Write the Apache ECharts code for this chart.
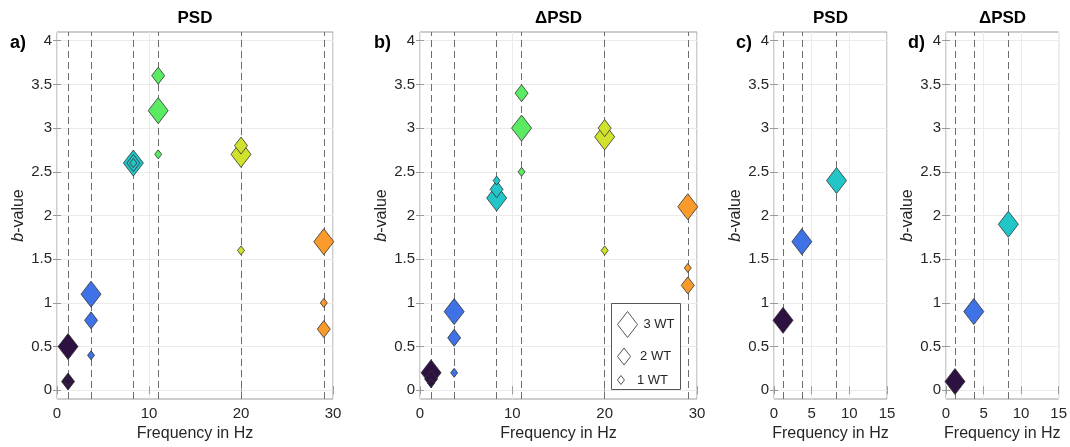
<!DOCTYPE html>
<html>
<head>
<meta charset="utf-8">
<script src="https://cdn.jsdelivr.net/npm/echarts@6/dist/echarts.min.js"></script>
<style>
html,body{margin:0;padding:0;background:#fff;}
#chart{width:1070px;height:447px;}
</style>
</head>
<body>
<div id="chart"></div>
<script>
// ---------- data ----------
const freqsAB = [1.2, 3.7, 8.3, 11, 20, 29];
const colorsAB = ['#2d1141', '#3f72e6', '#22c5c8', '#5aeb62', '#d0e22c', '#fa9a2a'];

const psd_3WT = [0.5, 1.1, 2.6, 3.2, 2.7, 1.7];
const psd_2WT = [0.1, 0.8, 2.6, 3.6, 2.8, 0.7];
const psd_1WT = [0.1, 0.4, 2.6, 2.7, 1.6, 1.0];

const dpsd_3WT = [0.2, 0.9, 2.2, 3.0, 2.9, 2.1];
const dpsd_2WT = [0.13, 0.6, 2.3, 3.4, 3.0, 1.2];
const dpsd_1WT = [0.08, 0.2, 2.4, 2.5, 1.6, 1.4];

const freqsCD = [1.2, 3.7, 8.3];
const colorsCD = ['#2d1141', '#3f72e6', '#22c5c8'];
const psdC_3WT = [0.8, 1.7, 2.4];
const dpsdD_3WT = [0.1, 0.9, 1.9];

const yTicks = [0, 0.5, 1, 1.5, 2, 2.5, 3, 3.5, 4];
const panelTitles = ['PSD', '\u0394PSD', 'PSD', '\u0394PSD'];
const panelLetters = ['a)', 'b)', 'c)', 'd)'];
const sizeNames = ['3 WT', '2 WT', '1 WT'];

// ---------- styling ----------
const FONT = '"Liberation Sans", Arial, Helvetica, sans-serif';
const TXT = '#262626';
const BOX = '#9a9a9a';
const symSizes = {'3 WT': [20, 26], '2 WT': [13, 17], '1 WT': [7, 9]};

const grids = [
  {left: 57, top: 32, width: 276, height: 367, xmax: 30, xint: 10},
  {left: 420, top: 32, width: 277, height: 367, xmax: 30, xint: 10},
  {left: 774, top: 32, width: 113, height: 367, xmax: 15, xint: 5},
  {left: 946, top: 32, width: 113, height: 367, xmax: 15, xint: 5}
];

const option = {
  animation: false,
  backgroundColor: '#fff',
  textStyle: {fontFamily: FONT},
  grid: grids.map(g => ({left: g.left, top: g.top, width: g.width, height: g.height,
    show: true, borderColor: BOX, borderWidth: 1, backgroundColor: 'transparent'})),
  xAxis: [],
  yAxis: [],
  series: [],
  legend: [],
  graphic: []
};

grids.forEach((g, i) => {
  option.xAxis.push({
    type: 'value', gridIndex: i, min: 0, max: g.xmax, interval: g.xint,
    name: 'Frequency in Hz', nameLocation: 'middle', nameGap: 27,
    nameTextStyle: {fontSize: 16, color: TXT, fontFamily: FONT},
    axisLine: {show: false},
    axisTick: {show: true, inside: true, length: 4, lineStyle: {color: BOX}},
    axisLabel: {fontSize: 15, color: TXT, fontFamily: FONT, margin: 7},
    splitLine: {show: true, lineStyle: {color: '#ebebeb', width: 1}}
  });
  option.xAxis.push({
    type: 'value', gridIndex: i, position: 'top', min: 0, max: g.xmax, interval: g.xint,
    axisLine: {show: false},
    axisTick: {show: true, inside: true, length: 4, lineStyle: {color: BOX}},
    axisLabel: {show: false}, splitLine: {show: false}
  });
  option.yAxis.push({
    type: 'value', gridIndex: i, min: -0.1, max: 4.1,
    name: '{it|b}-value', nameLocation: 'middle', nameGap: 30,
    nameTextStyle: {fontSize: 16, color: TXT, fontFamily: FONT,
      rich: {it: {fontStyle: 'italic', fontSize: 16, color: TXT, fontFamily: FONT}}},
    axisLine: {show: false},
    axisTick: {show: true, inside: true, length: 4, lineStyle: {color: BOX}, customValues: yTicks},
    axisLabel: {fontSize: 15, color: TXT, fontFamily: FONT, margin: 5, customValues: yTicks},
    splitLine: {show: true, lineStyle: {color: '#ebebeb', width: 1}}
  });
  option.yAxis.push({
    type: 'value', gridIndex: i, position: 'right', min: -0.1, max: 4.1,
    axisLine: {show: false},
    axisTick: {show: true, inside: true, length: 4, lineStyle: {color: BOX}, customValues: yTicks},
    axisLabel: {show: false, customValues: yTicks}, splitLine: {show: false}
  });
});

function addPanel(i, freqs, colors, groups) {
  const xi = i * 2, yi = i * 2;
  option.series.push({
    type: 'scatter', xAxisIndex: xi, yAxisIndex: yi, data: [], z: 1, silent: true,
    markLine: {
      z: 1, symbol: 'none', silent: true, animation: false, label: {show: false},
      lineStyle: {type: [7, 4], color: '#6e6e6e', width: 1},
      emphasis: {disabled: true},
      data: freqs.map(f => ({xAxis: f}))
    }
  });
  groups.forEach(([name, vals]) => {
    option.series.push({
      type: 'scatter', name: name, xAxisIndex: xi, yAxisIndex: yi, z: 3,
      symbol: 'diamond', symbolSize: symSizes[name], clip: false,
      itemStyle: {borderColor: '#333', borderWidth: 0.8, opacity: 1},
      data: vals.map((v, k) => ({value: [freqs[k], v], itemStyle: {color: colors[k], opacity: 1}}))
    });
  });
}

addPanel(0, freqsAB, colorsAB, [['3 WT', psd_3WT], ['2 WT', psd_2WT], ['1 WT', psd_1WT]]);
addPanel(1, freqsAB, colorsAB, [['3 WT', dpsd_3WT], ['2 WT', dpsd_2WT], ['1 WT', dpsd_1WT]]);
addPanel(2, freqsCD, colorsCD, [['3 WT', psdC_3WT]]);
addPanel(3, freqsCD, colorsCD, [['3 WT', dpsdD_3WT]]);

grids.forEach((g, i) => {
  option.graphic.push({
    type: 'text', silent: true,
    style: {text: panelTitles[i], x: g.left + g.width / 2, y: 18, align: 'center', verticalAlign: 'middle',
      font: 'bold 17px ' + FONT, fill: '#000'}
  });
});
const letterX = [10, 374, 736, 908];
panelLetters.forEach((t, i) => {
  option.graphic.push({
    type: 'text', silent: true,
    style: {text: t, x: letterX[i], y: 43, align: 'left', verticalAlign: 'middle',
      font: 'bold 18px ' + FONT, fill: '#000'}
  });
});

option.graphic.push({
  type: 'rect', silent: true, z: 10,
  shape: {x: 611.5, y: 303.5, width: 69, height: 86},
  style: {fill: '#fff', stroke: '#555', lineWidth: 1}
});
const legendIcon = 'path://M10,0L20,13L10,26L0,13Z';
const legTop = {'3 WT': 311, '2 WT': 347.5, '1 WT': 373.5};
sizeNames.forEach(n => {
  option.legend.push({
    left: 617, top: legTop[n], orient: 'vertical', padding: 0, z: 11,
    selectedMode: false, itemWidth: 20, itemHeight: symSizes[n][1],
    symbolKeepAspect: true,
    textStyle: {fontSize: 13, color: TXT, fontFamily: FONT, padding: [0, 0, 0, 1]},
    data: [{name: n, icon: legendIcon, itemStyle: {color: '#fff', borderColor: '#555', borderWidth: 1}}]
  });
});

const chart = echarts.init(document.getElementById('chart'), null, {renderer: 'canvas'});
chart.setOption(option);
</script>
</body>
</html>
